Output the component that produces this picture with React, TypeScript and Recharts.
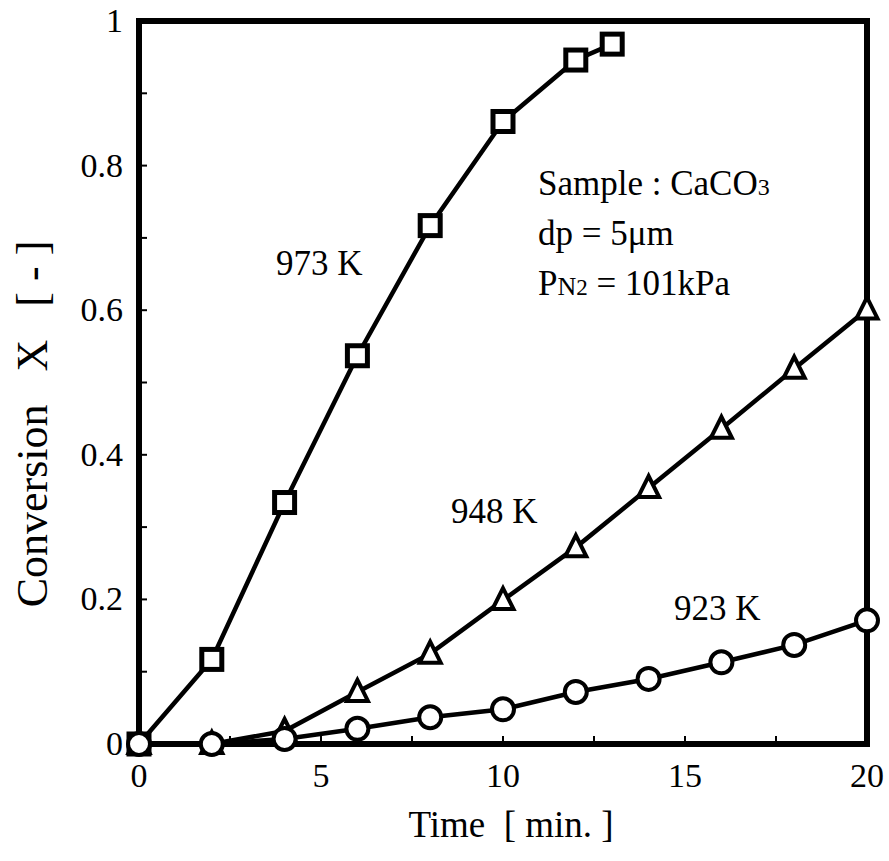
import React from "react";
import { LineChart, Line, XAxis, YAxis, ReferenceArea } from "recharts";

// time [min]
const time = [0, 2, 4, 6, 8, 10, 12, 13, 14, 16, 18, 20];

// conversion X [-] per temperature
const x973 = [0, 0.117, 0.334, 0.537, 0.717, 0.861, 0.946, 0.968, null, null, null, null];
const x948 = [0, 0, 0.018, 0.072, 0.125, 0.199, 0.272, null, 0.354, 0.436, 0.519, 0.601];
const x923 = [0, 0, 0.007, 0.021, 0.037, 0.048, 0.072, null, 0.09, 0.113, 0.137, 0.171];

const xTicks = [0, 2.5, 5, 7.5, 10, 12.5, 15, 17.5, 20];
const xTickLabels = ["0", "5", "10", "15", "20"];
const yTicks = [0, 0.1, 0.2, 0.3, 0.4, 0.5, 0.6, 0.7, 0.8, 0.9, 1];
const yTickLabels = ["0", "0.2", "0.4", "0.6", "0.8", "1"];

const data = time.map((t, i) => ({ t, a: x973[i], b: x948[i], c: x923[i] }));

const FONT = '"Liberation Serif", "DejaVu Serif", serif';
const FS = 34;

const SquareDot = (props: any) => {
  const { cx, cy, value } = props;
  if (value == null || cx == null || cy == null) return <g key={props.key} />;
  return <rect key={props.key} x={cx - 10} y={cy - 10} width={20} height={20} fill="#fff" stroke="#000" strokeWidth={5} />;
};

const TriangleDot = (props: any) => {
  const { cx, cy, value } = props;
  if (value == null || cx == null || cy == null) return <g key={props.key} />;
  const h = 20;
  const w = 21;
  return (
    <polygon
      key={props.key}
      points={`${cx},${cy - h * 0.6} ${cx - w / 2},${cy + h * 0.45} ${cx + w / 2},${cy + h * 0.45}`}
      fill="#fff"
      stroke="#000"
      strokeWidth={4}
    />
  );
};

const CircleDot = (props: any) => {
  const { cx, cy, value } = props;
  if (value == null || cx == null || cy == null) return <g key={props.key} />;
  return <circle key={props.key} cx={cx} cy={cy} r={11} fill="#fff" stroke="#000" strokeWidth={4} />;
};

const XTick = (props: any) => {
  const { x, y, payload } = props;
  const v = payload.value;
  const label = String(v);
  const show = xTickLabels.includes(label);
  return (
    <g>
      {v !== 0 && v !== 20 && <line x1={x} x2={x} y1={y} y2={y - 8} stroke="#000" strokeWidth={2} />}
      {show && (
        <text x={x} y={y + 43} textAnchor="middle" fontFamily={FONT} fontSize={FS} fill="#000">
          {label}
        </text>
      )}
    </g>
  );
};

const YTick = (props: any) => {
  const { x, y, payload } = props;
  const v = payload.value;
  const label = String(v);
  const show = yTickLabels.includes(label);
  return (
    <g>
      {v !== 0 && v !== 1 && <line x1={x} x2={x + 8} y1={y} y2={y} stroke="#000" strokeWidth={2} />}
      {show && (
        <text x={x - 16} y={y + 11} textAnchor="end" fontFamily={FONT} fontSize={FS} fill="#000">
          {label}
        </text>
      )}
    </g>
  );
};

export default function App() {
  return (
    <div style={{ position: "absolute", left: 0, top: 0, width: 889, height: 861, background: "#fff" }}>
      <LineChart width={889} height={861} data={data} margin={{ top: 21, right: 22, left: 39, bottom: 57 }}>
        <XAxis
          dataKey="t"
          type="number"
          domain={[0, 20]}
          ticks={xTicks}
          axisLine={false}
          tickLine={false}
          tickSize={0}
          tickMargin={0}
          height={60}
          tick={<XTick />}
          interval={0}
        />
        <YAxis
          type="number"
          domain={[0, 1]}
          ticks={yTicks}
          axisLine={false}
          tickLine={false}
          tickSize={0}
          tickMargin={0}
          width={100}
          tick={<YTick />}
          interval={0}
        />
        <ReferenceArea x1={0} x2={20} y1={0} y2={1} fill="none" stroke="#000" strokeWidth={6} />
        <Line dataKey="a" stroke="#000" strokeWidth={4.5} dot={SquareDot} connectNulls isAnimationActive={false} />
        <Line dataKey="b" stroke="#000" strokeWidth={4.5} dot={TriangleDot} connectNulls isAnimationActive={false} />
        <Line dataKey="c" stroke="#000" strokeWidth={4.5} dot={CircleDot} connectNulls isAnimationActive={false} />
      </LineChart>
      <svg width={889} height={861} style={{ position: "absolute", left: 0, top: 0, pointerEvents: "none" }}>
        <g fontFamily={FONT} fontSize={35} fill="#000">
          <text x={276} y={275}>973 K</text>
          <text x={451} y={523}>948 K</text>
          <text x={674} y={620}>923 K</text>
          <text x={538} y={195}>
            Sample : CaCO<tspan fontSize={24}>3</tspan>
          </text>
          <text x={538} y={245}>dp = 5μm</text>
          <text x={538} y={295}>
            P<tspan fontSize={26}>N</tspan>
            <tspan fontSize={23}>2</tspan> = 101kPa
          </text>
        </g>
        <g fontFamily={FONT} fill="#000">
          <text x={511} y={837} textAnchor="middle" fontSize={37}>
            {"Time\u00a0\u00a0[ min. ]"}
          </text>
          <text x={47} y={424} textAnchor="middle" fontSize={44} transform="rotate(-90 47 424)">
            {"Conversion\u00a0\u00a0\u00a0X\u00a0\u00a0\u00a0[ - ]"}
          </text>
        </g>
      </svg>
    </div>
  );
}
